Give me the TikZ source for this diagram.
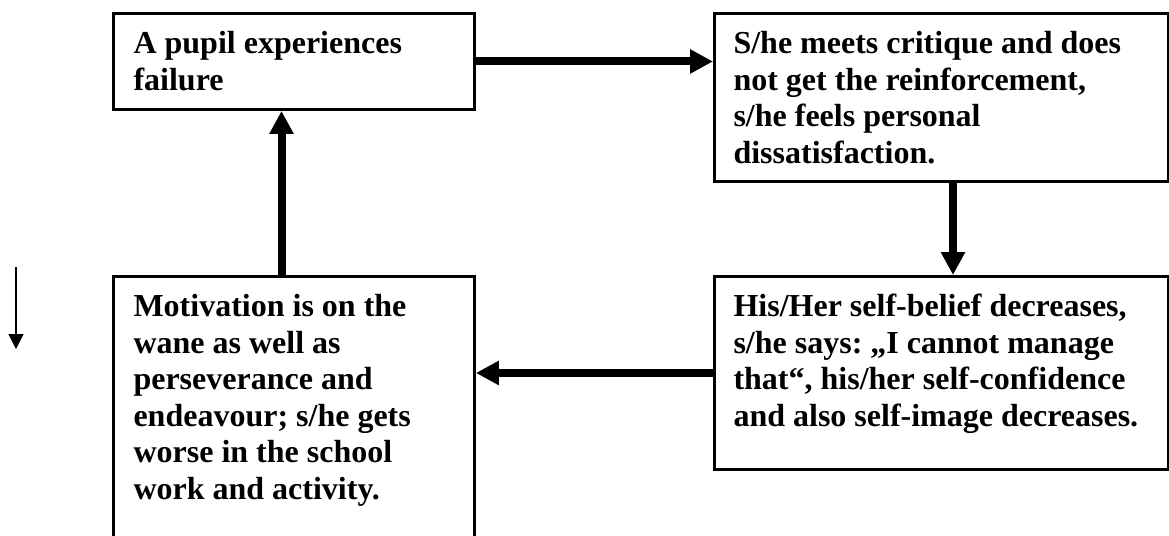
\documentclass[tikz,border=0pt]{standalone}
\usepackage{fontspec}
\setmainfont{Liberation Serif}
\usetikzlibrary{arrows.meta,calc}
\frenchspacing
\begin{document}
\begin{tikzpicture}[x=0.375pt,y=-0.375pt,
  box/.style={draw=black, line width=1.1pt, rectangle, inner sep=0pt, anchor=north west},
  txt/.style={anchor=base west, align=left, inner sep=0pt, font=\bfseries\fontsize{12pt}{13.7pt}\selectfont},
  bigarrow/.style={line width=3pt, -{Triangle[length=8.6pt,width=8.6pt]}},
  smallarrow/.style={line width=0.5pt, -{Triangle[length=5.6pt,width=5.6pt]}}]
\clip (0,0) rectangle (1169,535);
\fill[white] (0,0) rectangle (1169,535);
% boxes
\node[box, minimum width=135.375pt, minimum height=36pt] (A) at (112,12) {};
\node[box, minimum width=170.25pt, minimum height=63pt] (B) at (713,12) {};
\node[box, minimum width=135.375pt, minimum height=110pt] (C) at (112,275) {};
\node[box, minimum width=170.25pt, minimum height=72.375pt] (D) at (713,275) {};
% texts (base anchor = baseline of the last line)
\node[txt] (tA) at (133,90.5) {A pupil experiences\\failure};
\node[txt] (tB) at (733,163.5) {S/he meets critique and does\\not get the reinforcement,\\s/he feels personal\\dissatisfaction.};
\node[txt] (tC) at (133,499.5) {Motivation is on the\\wane as well as\\perseverance and\\endeavour; s/he gets\\worse in the school\\work and activity.};
\node[txt] (tD) at (733,426.5) {His/Her self-belief decreases,\\s/he says: „I cannot manage\\that“, his/her self-confidence\\and also self-image decreases.};
% connectors
\coordinate (bx) at (953,0);
\coordinate (cx) at (281.5,0);
\draw[bigarrow] (A.east) -- (A.east -| B.west);
\draw[bigarrow] (B.south -| bx) -- (D.north -| bx);
\draw[bigarrow] (D.west) -- (D.west -| C.east);
\draw[bigarrow] (C.north -| cx) -- (A.south -| cx);
% small arrow
\coordinate (s1) at (16,267);
\coordinate (s2) at (16,349);
\draw[smallarrow] (s1) -- (s2);
\end{tikzpicture}
\end{document}
